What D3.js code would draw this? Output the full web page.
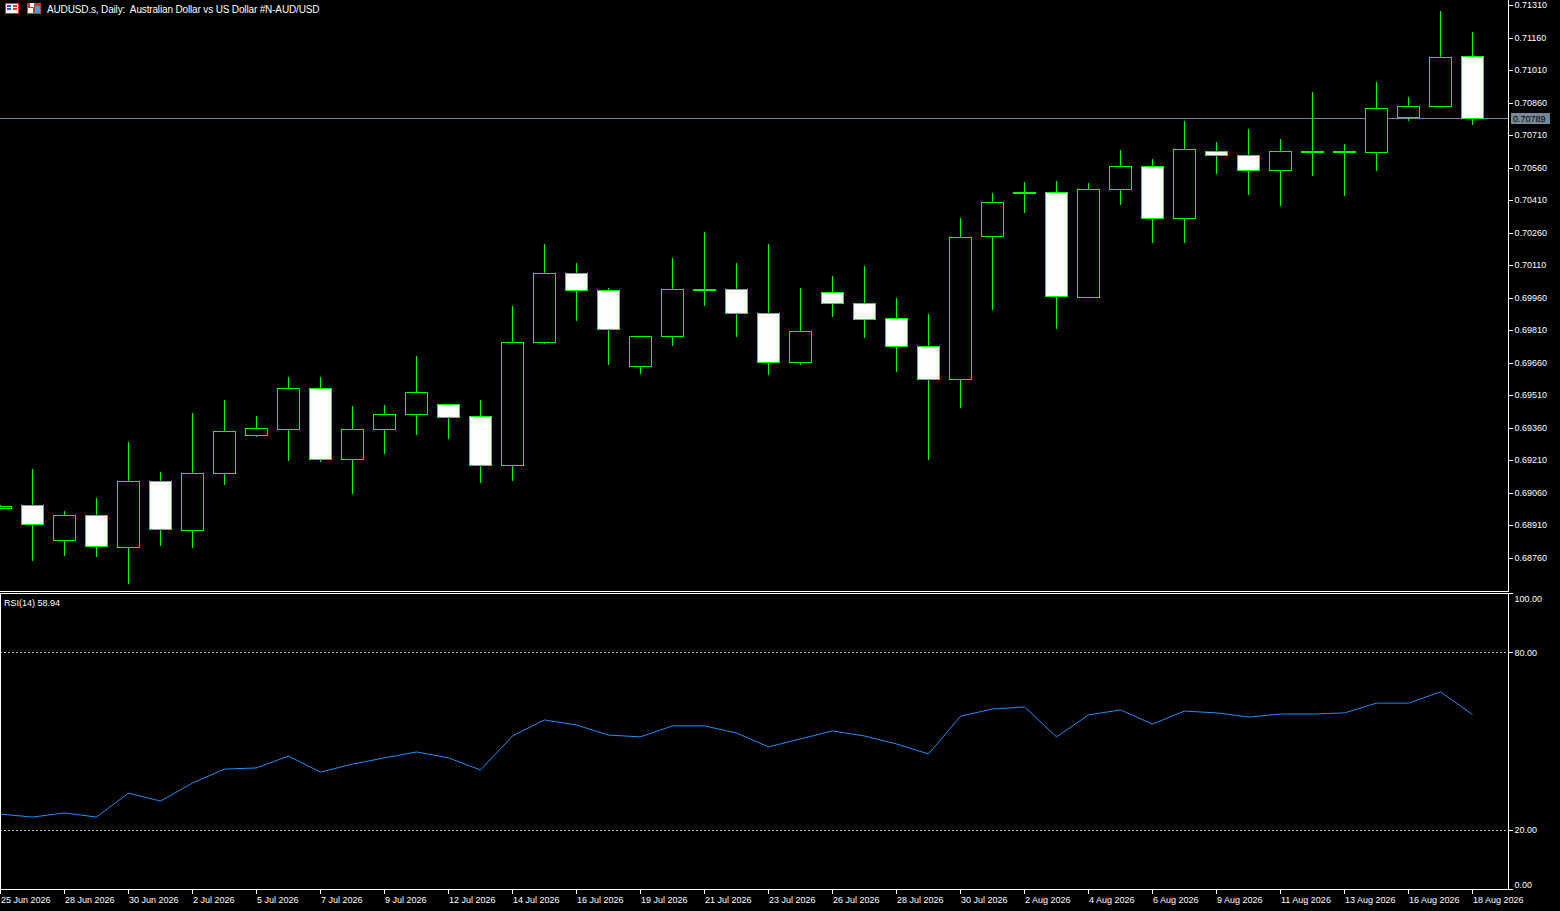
<!DOCTYPE html>
<html>
<head>
<meta charset="utf-8">
<script src="https://cdn.jsdelivr.net/npm/d3@7/dist/d3.min.js"></script>
<style>
  html, body { margin: 0; padding: 0; background: #000; overflow: hidden; }
  svg { display: block; }
  text { font-family: "Liberation Sans", Arial, sans-serif; fill: #fff; }
</style>
</head>
<body>
<svg id="chart" width="1560" height="911"></svg>
<script>
// ---------------- DATA ----------------
const dateLabels = ["25 Jun 2026","28 Jun 2026","30 Jun 2026","2 Jul 2026","5 Jul 2026","7 Jul 2026",
  "9 Jul 2026","12 Jul 2026","14 Jul 2026","16 Jul 2026","19 Jul 2026","21 Jul 2026","23 Jul 2026",
  "26 Jul 2026","28 Jul 2026","30 Jul 2026","2 Aug 2026","4 Aug 2026","6 Aug 2026","9 Aug 2026",
  "11 Aug 2026","13 Aug 2026","16 Aug 2026","18 Aug 2026"];

const opens  = [0.68990,0.69001,0.68840,0.68955,0.68807,0.69112,0.68886,0.69149,0.69324,0.69352,
                0.69541,0.69213,0.69352,0.69421,0.69467,0.69412,0.69186,0.69753,0.70072,0.69993,
                0.69643,0.69781,0.69995,0.69998,0.69887,0.69661,0.69984,0.69933,0.69864,0.69735,
                0.69583,0.70243,0.70444,0.70446,0.69961,0.70460,0.70566,0.70326,0.70635,0.70616,
                0.70547,0.70632,0.70632,0.70630,0.70792,0.70843,0.71073];
const highs  = [0.69002,0.69169,0.68975,0.69035,0.69293,0.69155,0.69427,0.69487,0.69413,0.69593,
                0.69593,0.69459,0.69464,0.69690,0.69468,0.69487,0.69921,0.70207,0.70119,0.70004,
                0.69782,0.70142,0.70262,0.70119,0.70207,0.70004,0.70059,0.70106,0.69958,0.69884,
                0.70327,0.70442,0.70493,0.70498,0.70489,0.70641,0.70599,0.70775,0.70678,0.70738,
                0.70690,0.70909,0.70669,0.70955,0.70885,0.71282,0.71185];
const lows   = [0.68984,0.68745,0.68769,0.68764,0.68639,0.68815,0.68805,0.69096,0.69318,0.69207,
                0.69202,0.69055,0.69239,0.69327,0.69309,0.69105,0.69115,0.69747,0.69853,0.69650,
                0.69608,0.69738,0.69922,0.69779,0.69604,0.69650,0.69872,0.69775,0.69618,0.69212,
                0.69452,0.69904,0.70352,0.69816,0.69961,0.70388,0.70213,0.70213,0.70531,0.70435,
                0.70384,0.70522,0.70430,0.70545,0.70776,0.70843,0.70758];
const closes = [0.68997,0.68913,0.68955,0.68812,0.69112,0.68890,0.69149,0.69343,0.69357,0.69541,
                0.69213,0.69352,0.69421,0.69523,0.69407,0.69186,0.69753,0.70072,0.69993,0.69813,
                0.69781,0.69998,0.69995,0.69887,0.69661,0.69804,0.69933,0.69860,0.69735,0.69583,
                0.70238,0.70400,0.70444,0.69966,0.70460,0.70566,0.70326,0.70644,0.70616,0.70547,
                0.70635,0.70632,0.70632,0.70833,0.70843,0.71069,0.70789];

const rsiValues = [25.3,24.3,25.7,24.3,32.4,29.7,35.8,40.5,40.9,44.9,
                   39.5,42.2,44.3,46.3,44.3,40.2,51.7,57.1,55.4,52.0,
                   51.4,55.1,55.1,52.7,48.0,50.7,53.4,51.7,49.0,45.6,
                   58.4,60.8,61.5,51.4,58.8,60.5,55.7,60.1,59.5,58.1,
                   59.1,59.1,59.5,62.8,62.8,66.6,58.94];

const priceTicks = [0.71310,0.71160,0.71010,0.70860,0.70710,0.70560,0.70410,0.70260,0.70110,
                    0.69960,0.69810,0.69660,0.69510,0.69360,0.69210,0.69060,0.68910,0.68760];
const rsiTicks = [100, 80, 20, 0];
const rsiLevels = [80, 20];
const currentPrice = 0.70789;
const titleText = "AUDUSD.s, Daily:  Australian Dollar vs US Dollar #N-AUD/USD";
const rsiLabel = "RSI(14) 58.94";

// ---------------- LAYOUT ----------------
const svg = d3.select("#chart");
const W = 1560, H = 911;
const axisX = 1508;          // right price-axis line
const mainBottom = 591;
const rsiTop = 593, rsiBottom = 889;

svg.append("rect").attr("width", W).attr("height", H).attr("fill", "#000");

const n = closes.length;
const x = d3.scaleLinear().domain([0, n - 1]).range([0, (n - 1) * 32]);
const y = d3.scaleLinear().domain([0.68760, 0.71310]).range([557.5, 5]);
const yr = d3.scaleLinear().domain([0, 100]).range([rsiBottom, rsiTop]);

const defs = svg.append("defs");
defs.append("clipPath").attr("id", "clipMain").append("rect")
  .attr("x", 0).attr("y", 0).attr("width", axisX).attr("height", mainBottom);
defs.append("clipPath").attr("id", "clipRsi").append("rect")
  .attr("x", 0).attr("y", rsiTop + 1).attr("width", axisX).attr("height", rsiBottom - rsiTop - 1);

// ---------------- MAIN PANEL ----------------
const main = svg.append("g").attr("clip-path", "url(#clipMain)").attr("shape-rendering", "crispEdges");

// current price line
main.append("line")
  .attr("x1", 0).attr("x2", axisX)
  .attr("y1", Math.round(y(currentPrice)) + 0.5).attr("y2", Math.round(y(currentPrice)) + 0.5)
  .attr("stroke", "#778899").attr("stroke-width", 1);

const candles = d3.range(n).map(i => ({i, o: opens[i], h: highs[i], l: lows[i], c: closes[i]}));
const cg = main.selectAll("g.candle").data(candles).join("g").attr("class", "candle");

cg.append("line")
  .attr("x1", d => Math.round(x(d.i)) + 0.5).attr("x2", d => Math.round(x(d.i)) + 0.5)
  .attr("y1", d => y(d.h)).attr("y2", d => y(d.l))
  .attr("stroke", "#00ff00").attr("stroke-width", 1);

cg.each(function(d) {
  const g = d3.select(this);
  const cx = Math.round(x(d.i));
  if (d.o === d.c) {
    g.append("line")
      .attr("x1", cx - 11).attr("x2", cx + 12)
      .attr("y1", Math.round(y(d.c)) ).attr("y2", Math.round(y(d.c)))
      .attr("stroke", "#00ff00").attr("stroke-width", 2);
  } else {
    const top = Math.round(y(Math.max(d.o, d.c)));
    const bot = Math.round(y(Math.min(d.o, d.c)));
    g.append("rect")
      .attr("x", cx - 10.5).attr("y", top + 0.5)
      .attr("width", 22).attr("height", Math.max(1, bot - top))
      .attr("fill", d.c > d.o ? "#000" : "#fff")
      .attr("stroke", "#00ff00").attr("stroke-width", 1);
  }
});

// title icons
const ic = svg.append("g").attr("shape-rendering", "crispEdges");
ic.append("rect").attr("x", 5.5).attr("y", 3.5).attr("width", 13).attr("height", 10).attr("fill", "#fff").attr("stroke", "#e03030");
ic.append("rect").attr("x", 7).attr("y", 5).attr("width", 4).attr("height", 2).attr("fill", "#3050c0");
ic.append("rect").attr("x", 7).attr("y", 8).attr("width", 4).attr("height", 2).attr("fill", "#3050c0");
ic.append("rect").attr("x", 13).attr("y", 5).attr("width", 4).attr("height", 2).attr("fill", "#e03030");
ic.append("rect").attr("x", 13).attr("y", 8).attr("width", 4).attr("height", 2).attr("fill", "#e03030");
ic.append("rect").attr("x", 27).attr("y", 3).attr("width", 14).attr("height", 11).attr("fill", "#e03030");
ic.append("rect").attr("x", 30).attr("y", 3).attr("width", 4).attr("height", 4).attr("fill", "#fff");
ic.append("rect").attr("x", 35).attr("y", 6).attr("width", 5).attr("height", 7).attr("fill", "#40a0e0");
ic.append("rect").attr("x", 28).attr("y", 8).attr("width", 5).attr("height", 5).attr("fill", "#fff");

svg.append("text").attr("x", 47).attr("y", 9).attr("dy", "0.35em")
  .attr("font-size", "10px").attr("letter-spacing", "-0.15px").style("white-space", "pre")
  .text(titleText);

// price axis
const pAxis = d3.axisRight(y).tickValues(priceTicks).tickFormat(d3.format(".5f"))
  .tickSize(4).tickPadding(2);
const pa = svg.append("g").attr("transform", `translate(${axisX + 0.5},0)`).call(pAxis);
pa.select(".domain").remove();
pa.selectAll("line").attr("stroke", "#fff").attr("shape-rendering", "crispEdges");
pa.selectAll("text").attr("fill", "#fff").attr("font-size", "9px")
  .attr("font-family", "Liberation Sans, Arial, sans-serif");

// current price tag
const cpY = y(currentPrice);
svg.append("rect").attr("x", 1511).attr("y", Math.round(cpY) - 5).attr("width", 39).attr("height", 11)
  .attr("fill", "#778899");
svg.append("text").attr("x", 1513).attr("y", cpY + 0.5).attr("dy", "0.35em")
  .attr("font-size", "9px").style("fill", "#000").text(d3.format(".5f")(currentPrice));

// ---------------- RSI PANEL ----------------
const rsi = svg.append("g").attr("clip-path", "url(#clipRsi)");
rsi.selectAll("line.level").data(rsiLevels).join("line").attr("class", "level")
  .attr("x1", 0).attr("x2", axisX)
  .attr("y1", d => Math.round(yr(d)) + 0.5).attr("y2", d => Math.round(yr(d)) + 0.5)
  .attr("stroke", "#c0c0c0").attr("stroke-width", 1).attr("stroke-dasharray", "2,2")
  .attr("shape-rendering", "crispEdges");

rsi.append("path").datum(rsiValues)
  .attr("fill", "none").attr("stroke", "#1e90ff").attr("stroke-width", 1)
  .attr("d", d3.line().x((d, i) => x(i) + 0.5).y(d => yr(d)));

svg.append("text").attr("x", 4).attr("y", 603).attr("dy", "0.35em")
  .attr("font-size", "9px").text(rsiLabel);

// rsi axis
const rAxis = d3.axisRight(yr).tickValues(rsiTicks).tickFormat(d3.format(".2f"))
  .tickSize(4).tickPadding(2);
const ra = svg.append("g").attr("transform", `translate(${axisX + 0.5},0)`).call(rAxis);
ra.select(".domain").remove();
ra.selectAll("line").attr("stroke", "#fff").attr("shape-rendering", "crispEdges");
ra.selectAll("text").attr("fill", "#fff").attr("font-size", "9px")
  .attr("font-family", "Liberation Sans, Arial, sans-serif")
  .attr("dy", d => d === 100 ? "0.9em" : (d === 0 ? "-0.2em" : "0.32em"));

// ---------------- FRAMES ----------------
const fr = svg.append("g").attr("stroke", "#fff").attr("stroke-width", 1).attr("shape-rendering", "crispEdges");
fr.append("line").attr("x1", 0).attr("x2", axisX + 1).attr("y1", mainBottom + 0.5).attr("y2", mainBottom + 0.5);
fr.append("line").attr("x1", 0).attr("x2", axisX + 1).attr("y1", rsiTop + 0.5).attr("y2", rsiTop + 0.5);
fr.append("line").attr("x1", 0).attr("x2", axisX + 1).attr("y1", rsiBottom + 0.5).attr("y2", rsiBottom + 0.5);
fr.append("line").attr("x1", axisX + 0.5).attr("x2", axisX + 0.5).attr("y1", 0).attr("y2", mainBottom + 1);
fr.append("line").attr("x1", axisX + 0.5).attr("x2", axisX + 0.5).attr("y1", rsiTop).attr("y2", rsiBottom + 1);
fr.append("line").attr("x1", 0.5).attr("x2", 0.5).attr("y1", rsiTop).attr("y2", rsiBottom + 1);

// ---------------- DATE AXIS ----------------
const tickIdx = dateLabels.map((_, k) => k * 2);
const da = svg.append("g");
da.selectAll("line").data(tickIdx).join("line")
  .attr("x1", d => Math.round(x(d)) + 0.5).attr("x2", d => Math.round(x(d)) + 0.5)
  .attr("y1", rsiBottom + 1).attr("y2", rsiBottom + 5)
  .attr("stroke", "#fff").attr("shape-rendering", "crispEdges");
da.selectAll("text").data(tickIdx).join("text")
  .attr("x", d => Math.round(x(d)) + 1).attr("y", 900).attr("dy", "0.35em")
  .attr("font-size", "9px").text((d, k) => dateLabels[k]);
</script>
</body>
</html>
